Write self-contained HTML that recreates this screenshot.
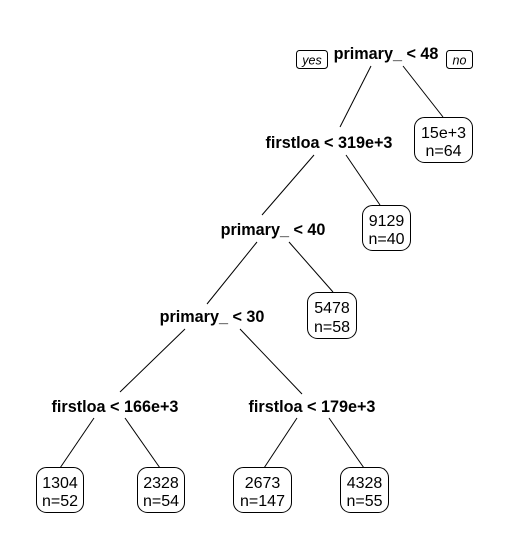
<!DOCTYPE html>
<html><head><style>
html,body{margin:0;padding:0;background:#fff;width:507px;height:551px;overflow:hidden}
text{font-family:"Liberation Sans",Arial,sans-serif;fill:#000}
.b{font-weight:bold;font-size:16.2px}
.n{font-size:16px}
.i{font-style:italic;font-size:12.5px}
</style></head><body>
<svg width="507" height="551" viewBox="0 0 507 551" xmlns="http://www.w3.org/2000/svg">
<g stroke="#000" stroke-width="1" fill="none">
<line x1="371" y1="66" x2="340" y2="127"/>
<line x1="403" y1="66" x2="443" y2="117"/>
<line x1="314" y1="155" x2="262" y2="215"/>
<line x1="346" y1="155" x2="380" y2="205"/>
<line x1="257" y1="242" x2="207" y2="304"/>
<line x1="289" y1="242" x2="333" y2="292"/>
<line x1="185" y1="329" x2="120" y2="392"/>
<line x1="240" y1="329" x2="302" y2="394"/>
<line x1="94" y1="418" x2="60" y2="468"/>
<line x1="125" y1="418" x2="160" y2="468"/>
<line x1="297" y1="418" x2="264" y2="468"/>
<line x1="329" y1="418" x2="364" y2="468"/>
<rect x="296.5" y="50.5" width="31" height="18" rx="3"/>
<rect x="446.5" y="50.5" width="26" height="18" rx="3"/>
<rect x="414.5" y="117.5" width="58" height="45" rx="10" fill="#fff"/>
<rect x="362.5" y="205.5" width="48" height="45" rx="10" fill="#fff"/>
<rect x="307.5" y="292.5" width="49" height="46" rx="10" fill="#fff"/>
<rect x="36.5" y="467.5" width="47" height="45" rx="10" fill="#fff"/>
<rect x="137.5" y="467.5" width="47" height="45" rx="10" fill="#fff"/>
<rect x="233.5" y="467.5" width="58" height="45" rx="10" fill="#fff"/>
<rect x="340.5" y="467.5" width="48" height="45" rx="10" fill="#fff"/>
</g>
<text class="i" x="312" y="64.5" text-anchor="middle">yes</text>
<text class="i" x="459.5" y="64.5" text-anchor="middle">no</text>
<g text-anchor="middle">
<text class="b" x="386" y="59">primary_ &lt; 48</text>
<text class="b" x="329" y="148">firstloa &lt; 319e+3</text>
<text class="b" x="273" y="235">primary_ &lt; 40</text>
<text class="b" x="212" y="322">primary_ &lt; 30</text>
<text class="b" x="115" y="412">firstloa &lt; 166e+3</text>
<text class="b" x="312" y="412">firstloa &lt; 179e+3</text>
</g>
<g text-anchor="middle">
<text class="n" x="443.5" y="138">15e+3</text><text class="n" x="443.5" y="156">n=64</text>
<text class="n" x="386.5" y="226">9129</text><text class="n" x="386.5" y="244">n=40</text>
<text class="n" x="332" y="313">5478</text><text class="n" x="332" y="332">n=58</text>
<text class="n" x="60" y="488">1304</text><text class="n" x="60" y="506">n=52</text>
<text class="n" x="161" y="488">2328</text><text class="n" x="161" y="506">n=54</text>
<text class="n" x="262.5" y="488">2673</text><text class="n" x="262.5" y="506">n=147</text>
<text class="n" x="364.5" y="488">4328</text><text class="n" x="364.5" y="506">n=55</text>
</g>
</svg>
</body></html>
